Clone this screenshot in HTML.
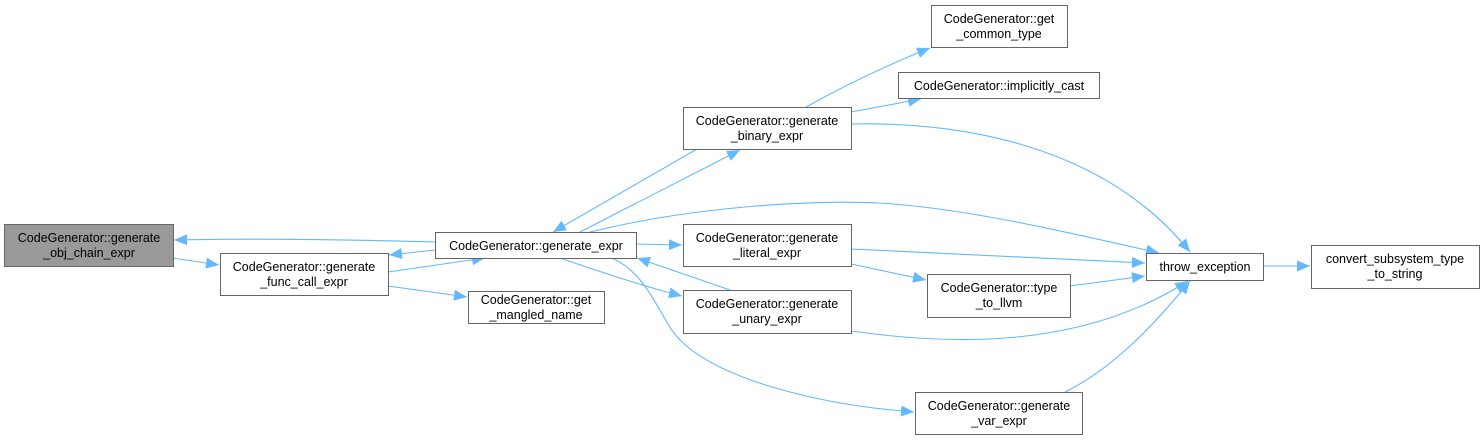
<!DOCTYPE html>
<html><head><meta charset="utf-8"><style>
html,body{margin:0;padding:0;background:#fff;}
svg text{font-family:"Liberation Sans",sans-serif;font-size:12.5px;fill:#000;}
</style></head><body>
<svg width="1484" height="440" viewBox="0 0 1484 440" xmlns="http://www.w3.org/2000/svg">
<defs>
<marker id="a" markerUnits="userSpaceOnUse" markerWidth="14" markerHeight="12" refX="13" refY="5.5" orient="auto">
<polygon points="0,0 13,5.5 0,11" fill="#63b8ff"/>
</marker>
</defs>
<g fill="none" stroke="#63b8ff" stroke-width="1.1" marker-end="url(#a)">
<path d="M435,242 C360,240 260,238 174,240"/>
<path d="M173,258 L219,265"/>
<path d="M388,272 L485,258"/>
<path d="M435,250 L389,255"/>
<path d="M388,286 L467,297"/>
<path d="M580,232 L740,150"/>
<path d="M697,149 L553,232"/>
<path d="M636,244 L682,245"/>
<path d="M560,258 C600,272 650,288 682,296"/>
<path d="M730,290 L637,258"/>
<path d="M612,258 C650,275 660,320 680,340 C720,380 820,405 914,412"/>
<path d="M590,232 C700,205 820,200 880,203 C960,208 1050,228 1159,253"/>
<path d="M806,107 C840,88 880,68 930,48"/>
<path d="M851,112 L921,99"/>
<path d="M851,124 C950,122 1100,140 1190,252"/>
<path d="M851,249 L1145,263"/>
<path d="M851,264 L926,280"/>
<path d="M1070,286 L1145,276"/>
<path d="M851,331 C950,345 1080,350 1188,281"/>
<path d="M1065,392 C1110,370 1150,330 1190,281"/>
<path d="M1264,266 L1310,266"/>
</g>
<g stroke="#666" stroke-width="1" fill="#fff">
<rect x="4.5" y="224.5" width="169" height="42" fill="#999"/>
<rect x="220.5" y="253.5" width="168" height="42"/>
<rect x="435.5" y="232.5" width="201" height="26"/>
<rect x="468.5" y="291.5" width="136" height="32"/>
<rect x="683.5" y="107.5" width="168" height="42"/>
<rect x="931.5" y="5.5" width="136" height="42"/>
<rect x="898.5" y="72.5" width="201" height="26"/>
<rect x="683.5" y="224.5" width="168" height="42"/>
<rect x="683.5" y="290.5" width="168" height="43"/>
<rect x="927.5" y="274.5" width="143" height="43"/>
<rect x="915.5" y="392.5" width="167" height="42"/>
<rect x="1146.5" y="253.5" width="117" height="27"/>
<rect x="1311.5" y="245.5" width="168" height="43"/>
</g>
<g text-anchor="middle">
<text x="89" y="242">CodeGenerator::generate</text><text x="89" y="257">_obj_chain_expr</text>
<text x="304" y="271">CodeGenerator::generate</text><text x="304" y="286">_func_call_expr</text>
<text x="536" y="250">CodeGenerator::generate_expr</text>
<text x="536" y="304">CodeGenerator::get</text><text x="536" y="319">_mangled_name</text>
<text x="767" y="125">CodeGenerator::generate</text><text x="767" y="140">_binary_expr</text>
<text x="999" y="23">CodeGenerator::get</text><text x="999" y="38">_common_type</text>
<text x="999" y="90">CodeGenerator::implicitly_cast</text>
<text x="767" y="242">CodeGenerator::generate</text><text x="767" y="257">_literal_expr</text>
<text x="767" y="308">CodeGenerator::generate</text><text x="767" y="323">_unary_expr</text>
<text x="999" y="292">CodeGenerator::type</text><text x="999" y="307">_to_llvm</text>
<text x="999" y="410">CodeGenerator::generate</text><text x="999" y="425">_var_expr</text>
<text x="1205" y="271">throw_exception</text>
<text x="1395" y="263">convert_subsystem_type</text><text x="1395" y="278">_to_string</text>
</g>
</svg>
</body></html>
